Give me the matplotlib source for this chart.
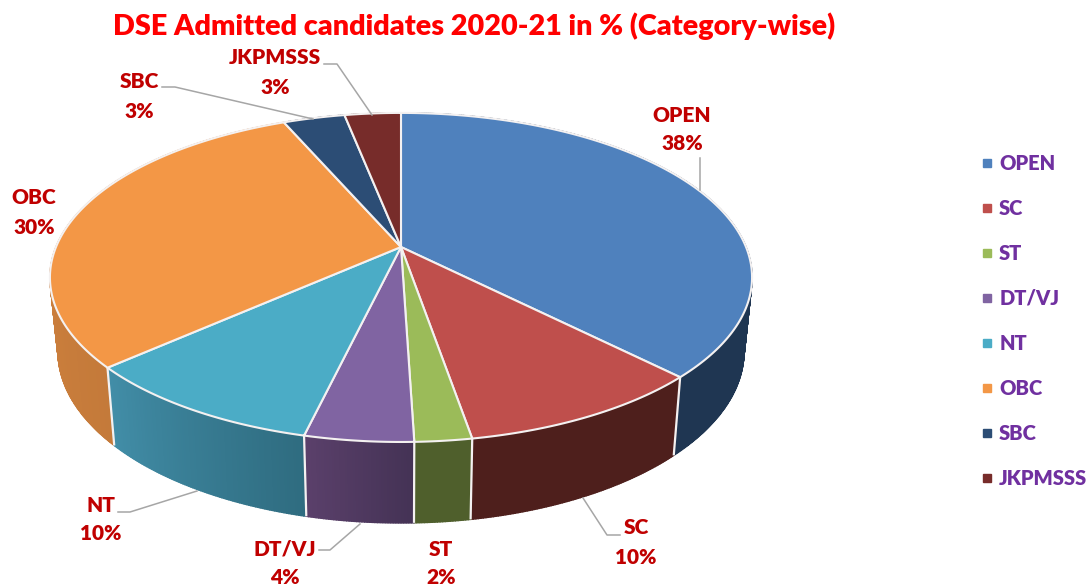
import numpy as np
import matplotlib
matplotlib.use("Agg")
import matplotlib.pyplot as plt
from matplotlib.patches import Polygon
from matplotlib.lines import Line2D
from matplotlib.colors import to_rgb

# ---- data ----
categories = ["OPEN", "SC", "ST", "DT/VJ", "NT", "OBC", "SBC", "JKPMSSS"]
values = [37.6, 9.7, 2.2, 4.2, 9.7, 30.1, 3.4, 3.1]
title = "DSE Admitted candidates 2020-21 in % (Category-wise)"

# ---- style ----
top_colors = ["#4F81BD", "#BF4F4C", "#9BBB59", "#8064A2", "#4BACC6", "#F39746", "#2C4D75", "#772C2A"]
side_start = ["#1F3652", "#4E1F1C", "#4F5F2C", "#443255", "#2F6C80", "#C47A3A", "#1C324C", "#4E1F1C"]
side_end   = ["#1F3652", "#4E1F1C", "#4F5F2C", "#5B406B", "#428EA8", "#E08B42", "#1C324C", "#4E1F1C"]
FONT = "Lato"
RED = "#C00000"
CX, CY, A, B, K = 401, 247, 345, 158.9, 0.185   # perspective disc
SHRINK = 0.977

label_pos = [(682, 115), (636, 528), (441, 549), (285, 549),
             (101, 505), (34, 198), (139, 82), (275, 58)]
leaders = [[(700, 158), (700, 190)],
           [(620, 535), (607, 535), (583, 498)],
           None,
           [(319, 550), (330, 550), (360, 524)],
           [(118, 512), (130, 512), (197, 491)],
           None,
           [(162, 87), (175, 87), (313, 119)],
           [(324, 64), (337, 64), (372, 115)]]


def top_xy(theta):
    s = 1 + K * np.cos(theta)
    return CX + A * np.sin(theta) / s, CY - B * np.cos(theta) / s


def bottom_xy(theta):
    x, y = top_xy(theta)
    return CX + (x - CX) * SHRINK, y + 62 + 0.043 * y


fig = plt.figure(figsize=(10.9, 5.86), dpi=100, facecolor="white")
ax = fig.add_axes([0, 0, 1, 1])
ax.set_xlim(0, 1090)
ax.set_ylim(586, 0)
ax.axis("off")

edges = np.cumsum([0] + values) / sum(values) * 2 * np.pi

# side wall
strips = []
for i in range(len(values)):
    n = max(8, int(values[i] * 10))
    ts = np.linspace(edges[i], edges[i + 1], n + 1)
    c0, c1 = np.array(to_rgb(side_start[i])), np.array(to_rgb(side_end[i]))
    for j in range(n):
        t0, t1 = ts[j], ts[j + 1]
        f = (j + 0.5) / n
        col = c0 + (c1 - c0) * f
        strips.append((top_xy(t0)[1] + top_xy(t1)[1], t0, t1, col))
strips.sort(key=lambda s: s[0])
for _, t0, t1, col in strips:
    ax.add_patch(Polygon([top_xy(t0), top_xy(t1), bottom_xy(t1), bottom_xy(t0)],
                         closed=True, facecolor=col, edgecolor=col, lw=1.0, zorder=2))

# vertical separators on the visible wall
for e in edges[:-1]:
    if np.pi * 0.5 < e < np.pi * 1.5:
        p, q = top_xy(e), bottom_xy(e)
        ax.plot([p[0], q[0]], [p[1], q[1]], color="#F4F1F1", lw=1.6, zorder=3,
                solid_capstyle="butt")

# top face
for i in range(len(values)):
    ts = np.linspace(edges[i], edges[i + 1], 200)
    x, y = top_xy(ts)
    pts = [(CX, CY)] + list(zip(x, y))
    ax.add_patch(Polygon(pts, closed=True, facecolor=top_colors[i], edgecolor="#F4F1F1",
                         lw=1.5, joinstyle="round", zorder=4))

# data labels and leader lines
for i, cat in enumerate(categories):
    lx, ly = label_pos[i]
    ax.text(lx, ly, cat, ha="center", va="center", color=RED, fontsize=15,
            fontweight="heavy", family=FONT, zorder=6)
    ax.text(lx, ly + 29, f"{values[i]:.0f}%", ha="center", va="center", color=RED, fontsize=15,
            fontweight="heavy", family=FONT, zorder=6)
    if leaders[i]:
        xs, ys = zip(*leaders[i])
        ax.plot(xs, ys, color="#A6A6A6", lw=1.1, zorder=5)

ax.text(474, 26, title, ha="center", va="center", color="#FF0000", fontsize=20.7,
        fontweight="heavy", family=FONT)

handles = [Line2D([], [], ls="none", marker="s", ms=6, color=c, label=n)
           for c, n in zip(top_colors, categories)]
leg = ax.legend(handles=handles, loc="upper left", bbox_to_anchor=(979, 154),
                bbox_transform=ax.transData, frameon=False, ncol=1,
                prop={"family": FONT, "weight": "heavy", "size": 14.5},
                labelspacing=1.29, handlelength=0.8, handletextpad=0.2,
                borderpad=0, borderaxespad=0)
for t in leg.get_texts():
    t.set_color("#7030A0")

fig.savefig("out.png", dpi=100)
